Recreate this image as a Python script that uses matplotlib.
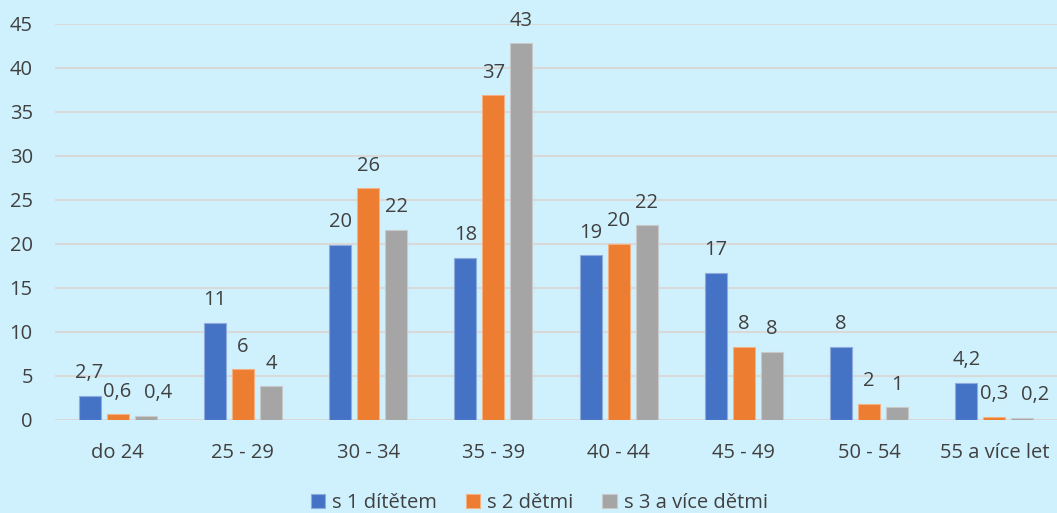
import matplotlib.pyplot as plt
import numpy as np

categories = ["do 24", "25 - 29", "30 - 34", "35 - 39", "40 - 44", "45 - 49", "50 - 54", "55 a více let"]
series_names = ["s 1 dítětem", "s 2 dětmi", "s 3 a více dětmi"]
s1_values = [2.7, 11.0, 19.9, 18.4, 18.7, 16.7, 8.3, 4.2]
s2_values = [0.6, 5.7, 26.3, 36.9, 20.0, 8.3, 1.8, 0.3]
s3_values = [0.4, 3.8, 21.6, 42.8, 22.1, 7.7, 1.4, 0.2]
s1_labels = ["2,7", "11", "20", "18", "19", "17", "8", "4,2"]
s2_labels = ["0,6", "6", "26", "37", "20", "8", "2", "0,3"]
s3_labels = ["0,4", "4", "22", "43", "22", "8", "1", "0,2"]
colors = ["#4472C4", "#ED7D31", "#A5A5A5"]
edges = ["#8FAADC", "#F4B183", "#C9C9C9"]

plt.rcParams['font.family'] = ['Open Sans', 'DejaVu Sans']
bg = "#CFF1FD"
text_color = "#404040"
fs = 14.5

fig = plt.figure(figsize=(10.57, 5.13), dpi=100, facecolor=bg)
ax = fig.add_axes([55 / 1057, 1 - 419.5 / 513, 1 - 55 / 1057, (419.5 - 24) / 513])
ax.set_facecolor(bg)

x = np.arange(len(categories))
pitch = 0.2236
width = 0.176
all_vals = [s1_values, s2_values, s3_values]
all_labels = [s1_labels, s2_labels, s3_labels]
for i in range(3):
    xs = x + (i - 1) * pitch
    ax.bar(xs, all_vals[i], width, color=colors[i], edgecolor=edges[i],
           linewidth=0.8, label=series_names[i], zorder=3)
    for xi, v, t in zip(xs, all_vals[i], all_labels[i]):
        # Excel nudges the tiny right-hand labels so they don't collide
        dx = 9 if (i == 2 and v < 1) else 0
        ax.annotate(t, (xi, v), xytext=(dx, 9), textcoords='offset points',
                    ha='center', va='bottom', fontsize=fs, color=text_color,
                    annotation_clip=False)

ax.set_xlim(-0.5, len(categories) - 0.5)
ax.set_ylim(0, 45)
ax.set_yticks(range(0, 50, 5))
ax.set_xticks(x)
ax.set_xticklabels(categories)
ax.tick_params(axis='both', length=0, labelsize=fs, colors=text_color)
ax.tick_params(axis='x', pad=17)
ax.tick_params(axis='y', pad=16)
ax.grid(axis='y', color="#D9D9D9", linewidth=1.5, zorder=0)
for s in ax.spines.values():
    s.set_visible(False)

fig.legend(loc='lower center', bbox_to_anchor=(0.51, -0.035), ncol=3, frameon=False,
           fontsize=fs, handlelength=0.7, handleheight=0.7, handletextpad=0.35,
           columnspacing=1.45, labelcolor=text_color)

fig.savefig("out.png", dpi=100, facecolor=bg)
